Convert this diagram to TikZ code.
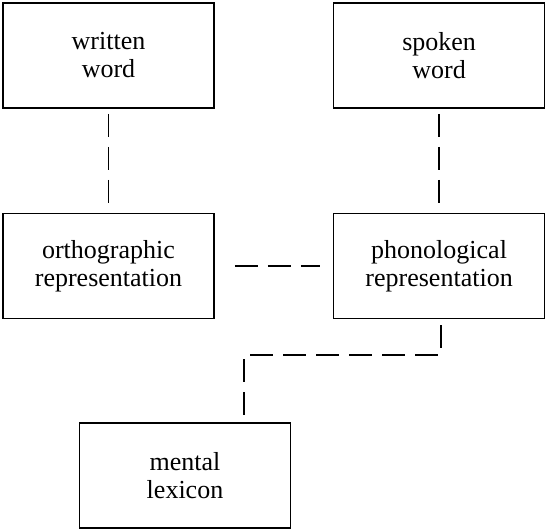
\documentclass[tikz,border=0pt]{standalone}
\usepackage{fontspec}
\setmainfont{Liberation Serif}
\usepackage{tikz}
\usetikzlibrary{positioning}
\tikzstyle{stage} = [draw, line width=0.8pt, minimum width=105.5pt, minimum height=52.5pt, text width=90pt, align=center, font=\fontsize{13}{14}\selectfont]
\tikzstyle{link} = [line width=0.7pt, dash pattern=on 11.5pt off 5pt]

\begin{document}
\begin{tikzpicture}[x=0.5pt, y=0.5pt]
  	\useasboundingbox (0,0) rectangle (548,530);
  	\node[stage] (written) at (108.5,474.5) {written\\word};
  	\node[stage, right=59pt of written] (spoken) {spoken\\word};
  	\node[stage, below=52pt of written] (ortho) {orthographic\\representation};
  	\node[stage, below=52pt of spoken] (phono) {phonological\\representation};
  	\node[stage] (mental) at (185,54.5) {mental\\lexicon};
  	\coordinate (turn) at (244,175);
  	\draw[link, shorten <=2.5pt, shorten >=2.5pt] (written) -- (ortho);
  	\draw[link, shorten <=2.5pt, shorten >=2.5pt] (spoken) -- (phono);
  	\draw[link, shorten <=10pt, shorten >=6.5pt] (ortho) -- (phono);
  	\draw[link, shorten <=3pt, shorten >=2pt] ([xshift=1pt]phono.south) |- (turn) -- (turn |- mental.north);
\end{tikzpicture}
\end{document}
